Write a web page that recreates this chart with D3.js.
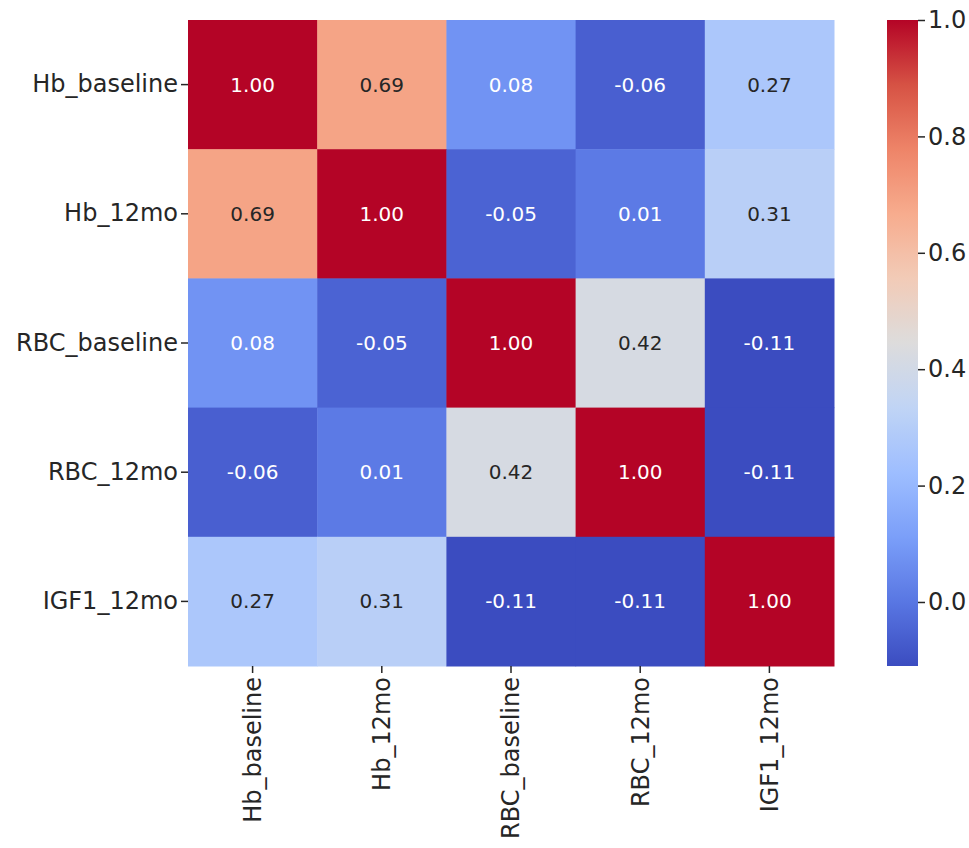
<!DOCTYPE html>
<html>
<head>
<meta charset="utf-8">
<script src="https://cdn.jsdelivr.net/npm/d3@7"></script>
<style>
  body { margin: 0; background: #fff; }
  svg { display: block; font-family: "DejaVu Sans", sans-serif; }
</style>
</head>
<body>
<div id="chart"></div>
<script>
// Variables (rows and columns share the same order)
const variables = ["Hb_baseline", "Hb_12mo", "RBC_baseline", "RBC_12mo", "IGF1_12mo"];

// Correlation matrix, row by row
const corrHbBaseline = [1.00, 0.69, 0.08, -0.06, 0.27];
const corrHb12mo = [0.69, 1.00, -0.05, 0.01, 0.31];
const corrRbcBaseline = [0.08, -0.05, 1.00, 0.42, -0.11];
const corrRbc12mo = [-0.06, 0.01, 0.42, 1.00, -0.11];
const corrIgf12mo = [0.27, 0.31, -0.11, -0.11, 1.00];
const matrix = [corrHbBaseline, corrHb12mo, corrRbcBaseline, corrRbc12mo, corrIgf12mo];

// Colorbar ticks
const cbarTicks = [0.0, 0.2, 0.4, 0.6, 0.8, 1.0];

// coolwarm colormap anchors
const coolwarm = ["#3b4cc0", "#5977e3", "#7b9ff9", "#9ebeff", "#c0d4f5", "#dddcdc",
                  "#f2cbb7", "#f7ac8e", "#ee8468", "#d65244", "#b40426"];

const cells = matrix.flatMap((row, i) =>
  row.map((v, j) => ({ row: variables[i], col: variables[j], value: v }))
);

const W = 969, H = 848;
const hm = { left: 188, top: 20, size: 646 };
const cb = { left: 887, width: 31 };

const vmin = d3.min(cells, d => d.value);
const vmax = d3.max(cells, d => d.value);

const t = d3.scaleLinear().domain([vmin, vmax]).range([0, 1]);
const cmap = d3.scaleLinear()
  .domain(d3.range(coolwarm.length).map(i => i / (coolwarm.length - 1)))
  .range(coolwarm)
  .interpolate(d3.interpolateRgb);
const color = v => cmap(t(v));

// plain hyphen for negatives, like matplotlib annotations
const fmt2 = v => d3.format(".2f")(v).replace("\u2212", "-");

// text color like seaborn: dark on light cells, white on dark ones
function textColor(c) {
  const rgb = d3.rgb(c);
  const lin = x => {
    x /= 255;
    return x <= 0.03928 ? x / 12.92 : Math.pow((x + 0.055) / 1.055, 2.4);
  };
  const lum = 0.2126 * lin(rgb.r) + 0.7152 * lin(rgb.g) + 0.0722 * lin(rgb.b);
  return lum > 0.408 ? "#262626" : "#ffffff";
}

const svg = d3.select("#chart").append("svg")
  .attr("width", W)
  .attr("height", H);

svg.append("rect").attr("width", W).attr("height", H).attr("fill", "#fff");

const x = d3.scaleBand().domain(variables).range([hm.left, hm.left + hm.size]);
const y = d3.scaleBand().domain(variables).range([hm.top, hm.top + hm.size]);

// Cells
svg.append("g")
  .selectAll("rect")
  .data(cells)
  .join("rect")
  .attr("x", d => x(d.col))
  .attr("y", d => y(d.row))
  .attr("width", x.bandwidth() + 0.5)
  .attr("height", y.bandwidth() + 0.5)
  .attr("fill", d => color(d.value));

// Annotations
svg.append("g")
  .selectAll("text")
  .data(cells)
  .join("text")
  .attr("x", d => x(d.col) + x.bandwidth() / 2)
  .attr("y", d => y(d.row) + y.bandwidth() / 2)
  .attr("text-anchor", "middle")
  .attr("dominant-baseline", "central")
  .attr("font-size", "20px")
  .attr("fill", d => textColor(color(d.value)))
  .text(d => fmt2(d.value));

// Axes
const yAxis = svg.append("g")
  .attr("transform", `translate(${hm.left},0)`)
  .call(d3.axisLeft(y).tickSize(7).tickPadding(3));
const xAxis = svg.append("g")
  .attr("transform", `translate(0,${hm.top + hm.size})`)
  .call(d3.axisBottom(x).tickSize(7).tickPadding(3));

[xAxis, yAxis].forEach(a => {
  a.select(".domain").remove();
  a.selectAll(".tick line").attr("stroke", "#262626").attr("stroke-width", 1.5);
  a.selectAll(".tick text")
    .attr("fill", "#262626")
    .attr("font-size", "24px")
    .attr("font-family", "DejaVu Sans, sans-serif");
});

xAxis.selectAll(".tick text")
  .attr("transform", "rotate(-90)")
  .attr("text-anchor", "end")
  .attr("dy", "0.35em")
  .attr("x", -11)
  .attr("y", 0);

// Colorbar
const cy = d3.scaleLinear().domain([vmin, vmax]).range([hm.top + hm.size, hm.top]);
const grad = svg.append("defs").append("linearGradient")
  .attr("id", "cbar")
  .attr("x1", 0).attr("y1", 1).attr("x2", 0).attr("y2", 0);
grad.selectAll("stop")
  .data(d3.range(0, 1.0001, 0.02))
  .join("stop")
  .attr("offset", d => d)
  .attr("stop-color", d => cmap(d));

svg.append("rect")
  .attr("x", cb.left)
  .attr("y", cy(vmax))
  .attr("width", cb.width)
  .attr("height", cy(vmin) - cy(vmax))
  .attr("fill", "url(#cbar)");

const cAxis = svg.append("g")
  .attr("transform", `translate(${cb.left + cb.width},0)`)
  .call(d3.axisRight(cy).tickValues(cbarTicks).tickFormat(d3.format(".1f")).tickSize(7).tickPadding(3));
cAxis.select(".domain").remove();
cAxis.selectAll(".tick line").attr("stroke", "#262626").attr("stroke-width", 1.5);
cAxis.selectAll(".tick text")
  .attr("fill", "#262626")
  .attr("font-size", "24px")
  .attr("font-family", "DejaVu Sans, sans-serif");
</script>
</body>
</html>
